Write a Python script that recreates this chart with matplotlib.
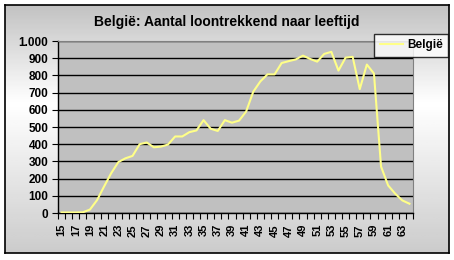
import numpy as np
import matplotlib
matplotlib.use("Agg")
import matplotlib.pyplot as plt
from matplotlib.ticker import FuncFormatter, FixedLocator

plt.rcParams['font.family'] = ['Liberation Sans', 'DejaVu Sans']

ages = list(range(15, 65))
# aantal loontrekkenden (x1000) per leeftijd
werknemers = [3, 3, 3, 4, 20, 75, 155, 232, 296, 318, 332, 400, 410, 382, 386,
              398, 445, 445, 470, 480, 540, 490, 477, 540, 525, 537, 590, 705, 765, 806,
              806, 872, 883, 893, 915, 896, 880, 925, 937, 828, 903, 908, 720, 863, 811,
              270, 160, 112, 73, 54]
reeks = "België"
titel = "België: Aantal loontrekkend naar leeftijd"
y_ticks = list(range(0, 1001, 100))

W, H = 454, 260
fig = plt.figure(figsize=(W / 100, H / 100), dpi=100, facecolor="white")

# achtergrond met verloop (grijs - wit - grijs) en zwarte rand
bg = fig.add_axes([5 / W, 7 / H, 444 / W, 248 / H], zorder=-5)
grad = np.concatenate([np.linspace(0.76, 1.0, 40), np.linspace(1.0, 0.8, 60)])
bg.imshow(grad[:, None], cmap="gray", vmin=0, vmax=1, aspect="auto",
          extent=[0, 1, 0, 1], interpolation="bilinear")
bg.set_xticks([])
bg.set_yticks([])
for s in bg.spines.values():
    s.set_color("black")
    s.set_linewidth(1.2)

ax = fig.add_axes([58 / W, 47 / H, 355 / W, 172 / H])
ax.set_facecolor("#C0C0C0")
x = np.arange(len(ages))
ax.plot(x, werknemers, color="#FFFF88", lw=1.5, label=reeks, zorder=3)

ax.set_xlim(-0.5, len(ages) - 0.5)
ax.set_ylim(0, 1000)
ax.set_yticks(y_ticks)
ax.yaxis.set_major_formatter(FuncFormatter(lambda v, p: f"{int(v):,}".replace(",", ".")))
ax.grid(axis="y", color="black", lw=1.0)
ax.set_axisbelow(True)

# streepjes op de grenzen, labels in het midden (zoals Excel)
ax.xaxis.set_major_locator(FixedLocator(np.arange(-0.5, len(ages), 1)))
ax.set_xticklabels([])
ax.xaxis.set_minor_locator(FixedLocator(x[::2]))
ax.set_xticklabels([str(a) for a in ages[::2]], minor=True, rotation=90,
                   fontweight="bold")
ax.tick_params(axis="x", which="major", length=4, width=0.8, direction="out")
ax.tick_params(axis="x", which="minor", length=0, pad=8, labelsize=8)
ax.tick_params(axis="y", length=4, width=0.8, direction="out", labelsize=8.5, pad=3)
for lab in ax.get_yticklabels():
    lab.set_fontweight("bold")

for side in ["top", "right"]:
    ax.spines[side].set_color("#808080")
for side in ["left", "bottom"]:
    ax.spines[side].set_color("black")
    ax.spines[side].set_linewidth(1.0)

fig.text(227 / W, 1 - 22 / H, titel, ha="center", va="center",
         fontsize=10, fontweight="bold")

leg = fig.legend(loc="upper right", bbox_to_anchor=(448 / W, 1 - 34 / H),
                 frameon=True, fancybox=False, prop={"weight": "bold", "size": 8.5},
                 handlelength=2.0, handletextpad=0.3, borderpad=0.45,
                 borderaxespad=0)
leg.get_frame().set_edgecolor("black")
leg.get_frame().set_linewidth(1.0)

fig.savefig("out.png", dpi=100)
